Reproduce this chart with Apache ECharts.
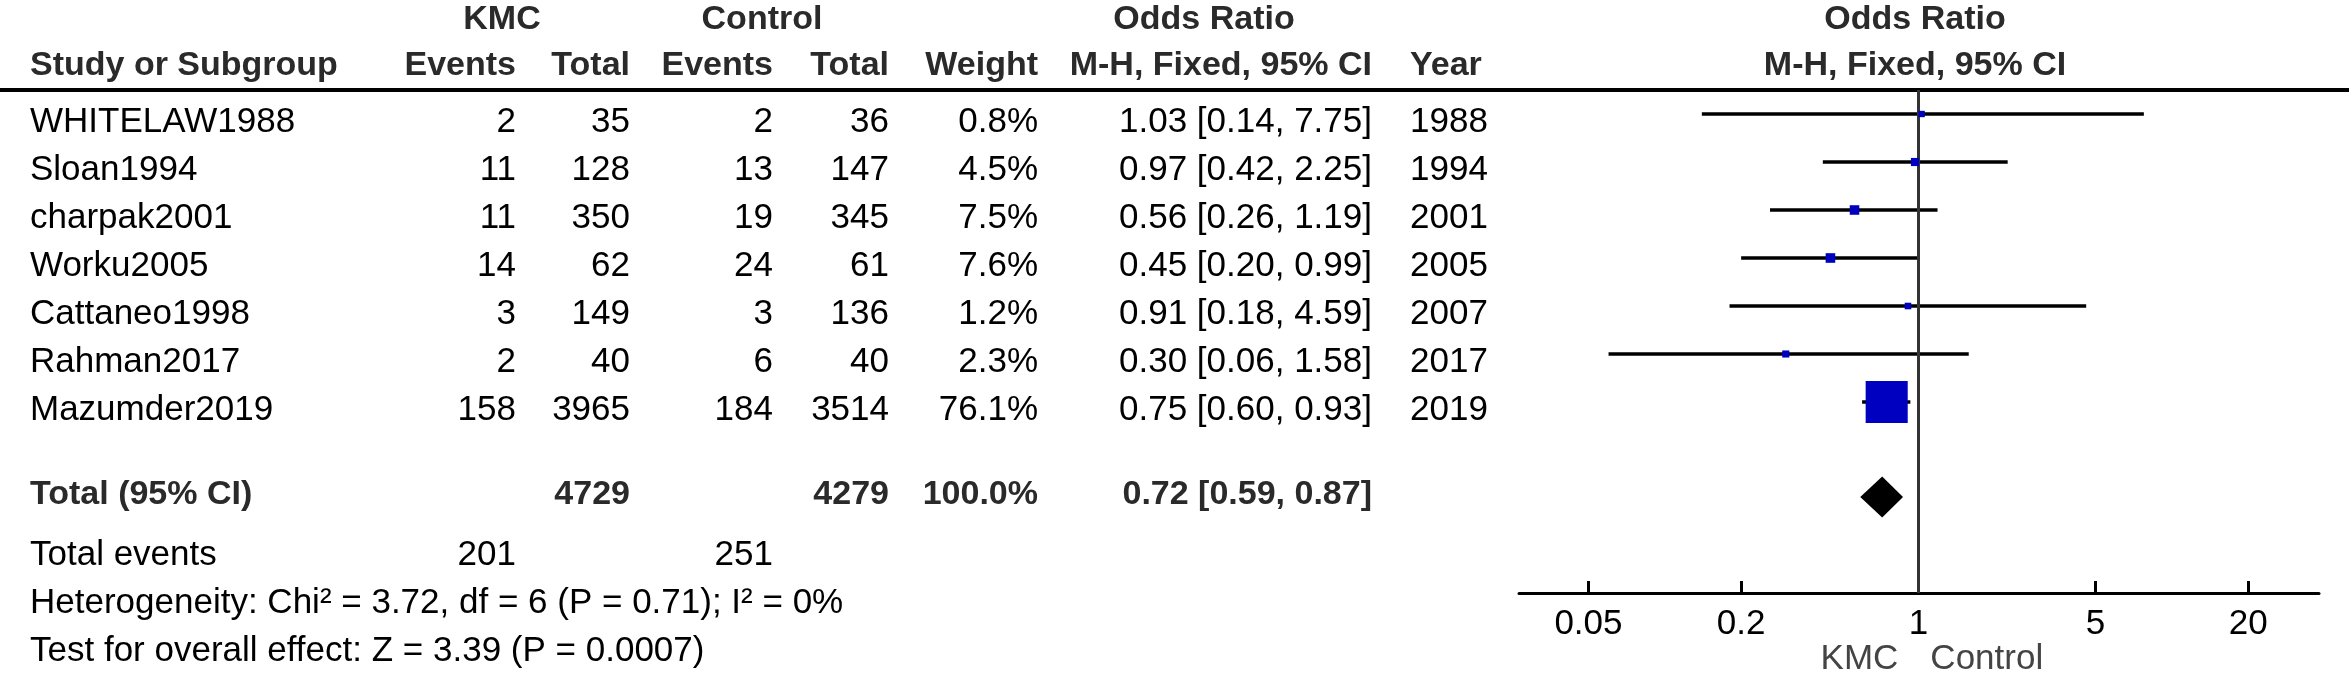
<!DOCTYPE html>
<html><head><meta charset="utf-8">
<script src="https://cdn.jsdelivr.net/npm/echarts@6/dist/echarts.min.js"></script>
<style>html,body{margin:0;padding:0;background:#fff;} #c{width:2349px;height:685px;}</style>
</head><body><div id="c"></div>
<script>
// ---- data ----
const studies = ['WHITELAW1988','Sloan1994','charpak2001','Worku2005','Cattaneo1998','Rahman2017','Mazumder2019'];
const kmcEvents = [2, 11, 11, 14, 3, 2, 158];
const kmcTotal = [35, 128, 350, 62, 149, 40, 3965];
const ctrlEvents = [2, 13, 19, 24, 3, 6, 184];
const ctrlTotal = [36, 147, 345, 61, 136, 40, 3514];
const weights = [0.8, 4.5, 7.5, 7.6, 1.2, 2.3, 76.1];
const oddsRatios = [1.03, 0.97, 0.56, 0.45, 0.91, 0.30, 0.75];
const ciLower = [0.14, 0.42, 0.26, 0.20, 0.18, 0.06, 0.60];
const ciUpper = [7.75, 2.25, 1.19, 0.99, 4.59, 1.58, 0.93];
const years = [1988, 1994, 2001, 2005, 2007, 2017, 2019];
const totalKmc = 4729, totalCtrl = 4279, totalWeight = 100.0;
const pooledOR = 0.72, pooledLower = 0.59, pooledUpper = 0.87;
const totalEventsKmc = 201, totalEventsCtrl = 251;
const heterogeneityText = 'Heterogeneity: Chi\u00b2 = 3.72, df = 6 (P = 0.71); I\u00b2 = 0%';
const overallText = 'Test for overall effect: Z = 3.39 (P = 0.0007)';
const tickValues = [0.05, 0.2, 1, 5, 20];
const tickLabels = ['0.05', '0.2', '1', '5', '20'];
const groupLabels = ['KMC', 'Control'];

// ---- layout ----
const FONT = '"Liberation Sans", Arial, sans-serif';
const FS = 35;      // regular text
const FSB = 34;     // bold text
const ROW0 = 114, ROWH = 48;          // pixel centre of first plot row, row pitch
const GRID_TOP = 90, GRID_BOTTOM = 593;
const TOTAL_ROW = 7.98;
const TEXT_DY = 8;
const LOGMIN = -1.575, LOGMAX = 1.580;
const fmt2 = v => v.toFixed(2);
const ciText = (o, l, h) => fmt2(o) + ' [' + fmt2(l) + ', ' + fmt2(h) + ']';

const chart = echarts.init(document.getElementById('c'), null, {renderer: 'canvas'});

const ciData = studies.map((s, i) => [Math.log10(ciLower[i]), Math.log10(ciUpper[i]), i]);
const sqData = studies.map((s, i) => [Math.log10(oddsRatios[i]), i, weights[i]]);
const diamondData = [[Math.log10(pooledLower), Math.log10(pooledOR), Math.log10(pooledUpper), TOTAL_ROW]];

chart.setOption({
  animation: false,
  backgroundColor: '#fff',
  grid: {left: 1519, width: 800, top: GRID_TOP, height: GRID_BOTTOM - GRID_TOP, containLabel: false},
  xAxis: {
    type: 'value', min: LOGMIN, max: LOGMAX,
    splitLine: {show: false},
    axisLine: {show: true, onZero: false, lineStyle: {color: '#000', width: 3}},
    axisTick: {show: true, inside: true, length: 12, lineStyle: {color: '#000', width: 3},
      customValues: tickValues.map(v => Math.log10(v))},
    axisLabel: {show: true, margin: 14, color: '#000', fontSize: FS, fontFamily: FONT,
      customValues: tickValues.map(v => Math.log10(v)),
      formatter: function (v) {
        let best = 0, d = 1e9;
        tickValues.forEach((t, k) => { const dd = Math.abs(Math.log10(t) - v); if (dd < d) { d = dd; best = k; } });
        return tickLabels[best];
      }}
  },
  yAxis: {
    type: 'value', inverse: true,
    min: (GRID_TOP - ROW0) / ROWH, max: (GRID_BOTTOM - ROW0) / ROWH,
    show: false, splitLine: {show: false}
  },
  series: [
    {
      type: 'custom', z: 2,
      renderItem: function (params, api) {
        const a = api.coord([api.value(0), api.value(2)]);
        const b = api.coord([api.value(1), api.value(2)]);
        return {type: 'line', shape: {x1: a[0], y1: a[1], x2: b[0], y2: b[1]},
          style: {stroke: '#000', lineWidth: 3.3}};
      },
      encode: {x: [0, 1], y: 2},
      data: ciData,
      markLine: {
        silent: true, symbol: ['none', 'none'], label: {show: false},
        lineStyle: {color: '#333', width: 3, type: 'solid'},
        data: [{xAxis: 0}]
      }
    },
    {
      type: 'scatter', z: 5,
      symbol: 'rect',
      symbolSize: function (val) { return 6 + 0.474 * val[2]; },
      itemStyle: {color: '#0000c0', opacity: 1},
      data: sqData
    },
    {
      type: 'custom', z: 5,
      renderItem: function (params, api) {
        const y = api.value(3);
        const l = api.coord([api.value(0), y]);
        const m = api.coord([api.value(1), y]);
        const h = api.coord([api.value(2), y]);
        const hh = 20.5;
        return {type: 'polygon', shape: {points: [[l[0], l[1]], [m[0], m[1] - hh], [h[0], h[1]], [m[0], m[1] + hh]]},
          style: {fill: '#000'}};
      },
      encode: {x: [0, 1, 2], y: 3},
      data: diamondData
    }
  ]
});

// ---- table text ----
function rowY(r) { return chart.convertToPixel({gridIndex: 0}, [0, r])[1] + TEXT_DY; }
const els = [];
function txt(s, x, y, align, bold, color) {
  els.push({type: 'text', silent: true, style: {
    text: String(s), x: x, y: y, font: (bold ? 'bold ' + FSB : FS) + 'px ' + FONT,
    fill: color || '#000', align: align, textAlign: align, verticalAlign: 'middle', textVerticalAlign: 'middle'}});
}
const HC = '#2a2a2a';
const H1 = 20, H2 = 66;
const C = {ke: 516, kt: 630, ce: 773, ct: 889, w: 1038, or: 1372, yr: 1410};
txt('KMC', 502, H1, 'center', true, HC);
txt('Control', 762, H1, 'center', true, HC);
txt('Odds Ratio', 1204, H1, 'center', true, HC);
txt('Odds Ratio', 1915, H1, 'center', true, HC);
txt('Study or Subgroup', 30, H2, 'left', true, HC);
txt('Events', C.ke, H2, 'right', true, HC);
txt('Total', C.kt, H2, 'right', true, HC);
txt('Events', C.ce, H2, 'right', true, HC);
txt('Total', C.ct, H2, 'right', true, HC);
txt('Weight', C.w, H2, 'right', true, HC);
txt('M-H, Fixed, 95% CI', C.or, H2, 'right', true, HC);
txt('Year', C.yr, H2, 'left', true, HC);
txt('M-H, Fixed, 95% CI', 1915, H2, 'center', true, HC);
els.push({type: 'line', silent: true, shape: {x1: 0, y1: GRID_TOP, x2: 2349, y2: GRID_TOP}, style: {stroke: '#000', lineWidth: 4}});

studies.forEach((s, i) => {
  const y = rowY(i);
  txt(s, 30, y, 'left');
  txt(kmcEvents[i], C.ke, y, 'right');
  txt(kmcTotal[i], C.kt, y, 'right');
  txt(ctrlEvents[i], C.ce, y, 'right');
  txt(ctrlTotal[i], C.ct, y, 'right');
  txt(weights[i].toFixed(1) + '%', C.w, y, 'right');
  txt(ciText(oddsRatios[i], ciLower[i], ciUpper[i]), C.or, y, 'right');
  txt(years[i], C.yr, y, 'left');
});
const yT = 495;
txt('Total (95% CI)', 30, yT, 'left', true, HC);
txt(totalKmc, C.kt, yT, 'right', true, HC);
txt(totalCtrl, C.ct, yT, 'right', true, HC);
txt(totalWeight.toFixed(1) + '%', C.w, yT, 'right', true, HC);
txt(ciText(pooledOR, pooledLower, pooledUpper), C.or, yT, 'right', true, HC);
const yE = 555;
txt('Total events', 30, yE, 'left');
txt(totalEventsKmc, C.ke, yE, 'right');
txt(totalEventsCtrl, C.ce, yE, 'right');
txt(heterogeneityText, 30, 603, 'left');
txt(overallText, 30, 651, 'left');

const x1 = chart.convertToPixel({gridIndex: 0}, [0, 0])[0];
txt(groupLabels[0], x1 - 20, 659, 'right', false, '#444');
txt(groupLabels[1], x1 + 12, 659, 'left', false, '#444');

chart.setOption({graphic: {elements: els}});
</script></body></html>
